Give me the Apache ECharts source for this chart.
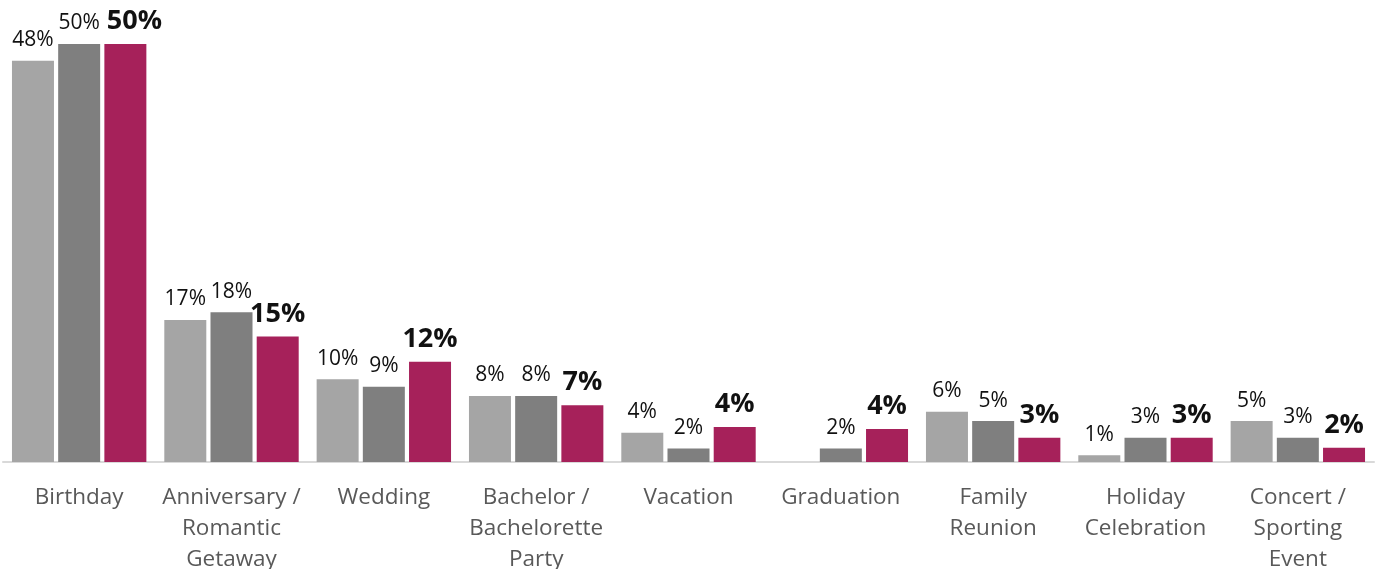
<!DOCTYPE html>
<html><head><meta charset="utf-8">
<script src="https://cdn.jsdelivr.net/npm/echarts@6/dist/echarts.min.js"></script>
<style>html,body{margin:0;padding:0;background:#fff}#c{width:1377px;height:569px}</style>
</head><body><div id="c"></div>
<script>
const categories = ['Birthday', 'Anniversary /\nRomantic\nGetaway', 'Wedding', 'Bachelor /\nBachelorette\nParty', 'Vacation', 'Graduation', 'Family\nReunion', 'Holiday\nCelebration', 'Concert /\nSporting\nEvent'];
const seriesA = [48, 17, 9.9, 7.9, 3.5, null, 6, 0.8, 4.9];
const seriesB = [50, 17.9, 9, 7.9, 1.6, 1.6, 4.9, 2.9, 2.9];
const seriesC = [50, 15, 12, 6.8, 4.2, 3.95, 2.9, 2.9, 1.7];

const chart = echarts.init(document.getElementById('c'));
const fmt = p => Math.round(p.value) + '%';
function mk(name, data, color, bold) {
  return {
    name, type: 'bar',
    data: data.map((v, i) => {
      if (v == null) return '-';
      if (bold && i === 0) return { value: v, label: { offset: [9, 0] } };
      return v;
    }),
    barWidth: 42, barGap: '10%',
    itemStyle: { color },
    label: {
      show: true, position: 'top', distance: bold ? 9 : 10, formatter: fmt,
      fontFamily: 'Open Sans', color: '#111',
      fontSize: bold ? 27 : 21, fontWeight: bold ? 'bold' : 'normal'
    }
  };
}
chart.setOption({
  animation: false,
  grid: { left: 3, right: 3, top: 44, bottom: 107, outerBoundsMode: 'none', containLabel: false },
  xAxis: {
    type: 'category', data: categories,
    axisLine: { lineStyle: { color: '#d9d9d9', width: 2 } },
    axisTick: { show: false },
    axisLabel: { color: '#595959', fontFamily: 'Open Sans', fontSize: 22.5, lineHeight: 31, margin: 20, interval: 0 }
  },
  yAxis: { type: 'value', min: 0, max: 50, show: false, splitLine: { show: false } },
  series: [
    mk('A', seriesA, '#a5a5a5', false),
    mk('B', seriesB, '#7f7f7f', false),
    mk('C', seriesC, '#a6215a', true)
  ]
});
</script></body></html>
